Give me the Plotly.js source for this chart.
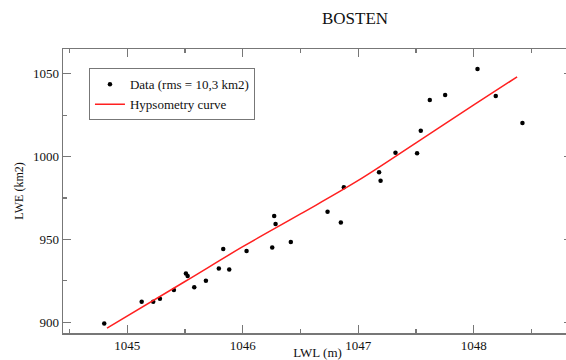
<!DOCTYPE html>
<html>
<head>
<meta charset="utf-8">
<script src="https://cdn.plot.ly/plotly-3.0.1.min.js"></script>
<style>
html,body{margin:0;padding:0;overflow:hidden;background:#fff;width:566px;height:360px;}
#chart{width:580px;height:360px;}
</style>
</head>
<body>
<div id="chart"></div>
<script>
// Observed data (LWL in m, LWE in km2)
const dataLWL = [1044.801,1045.125,1045.225,1045.283,1045.404,1045.508,1045.523,1045.580,1045.681,1045.793,
                 1045.831,1045.883,1046.033,1046.255,1046.272,1046.284,1046.416,1046.734,1046.849,1046.875,
                 1047.180,1047.193,1047.322,1047.509,1047.541,1047.619,1047.752,1048.032,1048.190,1048.421];
const dataLWE = [899.3,912.4,912.4,914.2,919.4,929.5,927.9,921.1,925.1,932.5,
                 944.2,931.9,943.0,945.2,964.1,959.3,948.4,966.7,960.3,981.5,
                 990.5,985.4,1002.4,1002.0,1015.6,1034.2,1037.2,1052.9,1036.6,1020.3];
// Hypsometry curve samples
const curveLWL = [1044.825,1045.5,1046.0,1046.5,1047.0,1047.5,1048.0,1048.375];
const curveLWE = [896.5,924.6,945.6,965.4,985.6,1008.3,1031.2,1048.2];

const titleText = "BOSTEN";
const xTitle = "LWL (m)";
const yTitle = "LWE (km2)";
const dataName = "Data (rms = 10,3 km2)";
const curveName = "Hypsometry curve";

const serif = "Liberation Serif";

const traces = [
  {x: dataLWL, y: dataLWE, type: "scatter", mode: "markers", name: dataName,
   marker: {color: "#000", size: 4.5}},
  {x: curveLWL, y: curveLWE, type: "scatter", mode: "lines", name: curveName,
   line: {color: "#ff2020", width: 1.5, shape: "spline"}}
];

const axisCommon = {
  showgrid: false, zeroline: false, showline: true, linecolor: "#777", linewidth: 1.5,
  mirror: "allticks", ticks: "inside", ticklen: 8, tickcolor: "#777", tickwidth: 1.2,
  tickfont: {family: serif, size: 13, color: "#111"},
  minor: {ticks: "inside", ticklen: 4, tickcolor: "#777", tickwidth: 1.2}
};

const layout = {
  width: 580, height: 360,
  margin: {l: 63, r: 8, t: 49, b: 27},
  paper_bgcolor: "#fff", plot_bgcolor: "#fff",
  font: {family: serif},
  showlegend: true,
  title: {text: titleText, x: 0.5737, xref: "paper", y: 0.95, yref: "container", yanchor: "middle",
          font: {family: serif, size: 17, color: "#111"}},
  xaxis: Object.assign({}, axisCommon, {
    range: [1044.444, 1048.85], dtick: 1, tick0: 1045,
    minor: Object.assign({}, axisCommon.minor, {dtick: 0.5}),
    title: {text: xTitle, standoff: 2, font: {family: serif, size: 13, color: "#111"}}
  }),
  yaxis: Object.assign({}, axisCommon, {
    range: [893.5, 1065], dtick: 50, tick0: 900,
    minor: Object.assign({}, axisCommon.minor, {dtick: 25}),
    title: {text: yTitle, standoff: 6, font: {family: serif, size: 12, color: "#111"}}
  }),
  legend: {x: 0.051, y: 0.932, xanchor: "left", yanchor: "top",
           bordercolor: "#777", borderwidth: 1, bgcolor: "#fff",
           font: {family: serif, size: 13, color: "#111"},
           itemwidth: 30, tracegroupgap: 0}
};

Plotly.newPlot("chart", traces, layout, {displayModeBar: false, staticPlot: true});
</script>
</body>
</html>
